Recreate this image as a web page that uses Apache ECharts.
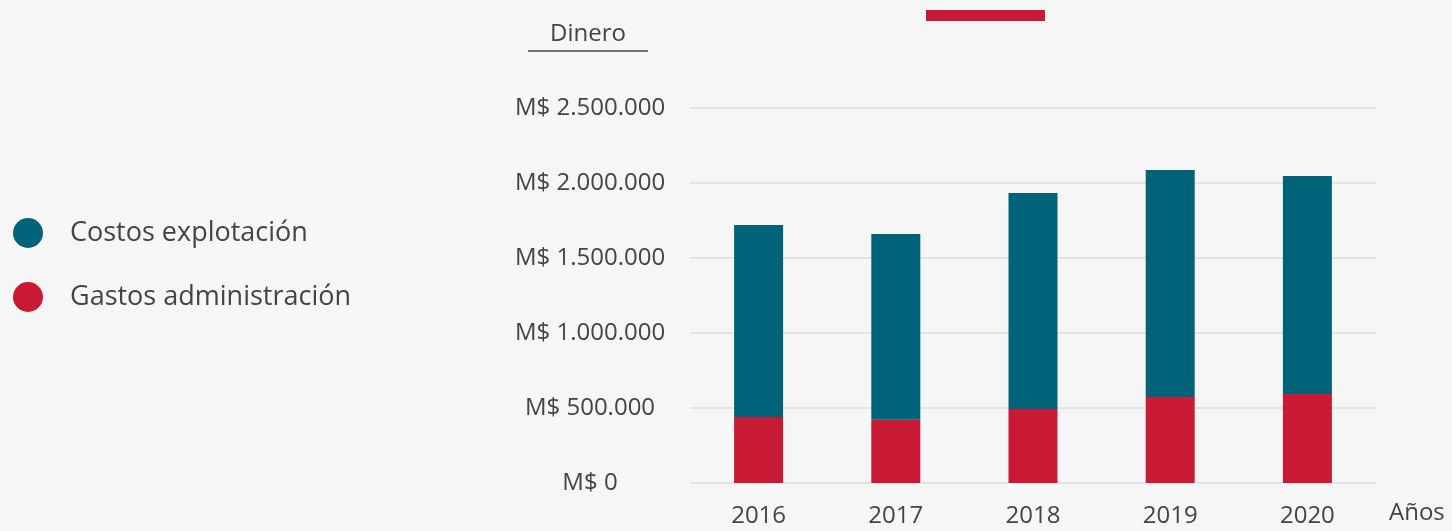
<!DOCTYPE html>
<html><head><meta charset="utf-8">
<script src="https://cdn.jsdelivr.net/npm/echarts@6/dist/echarts.min.js"></script>
<style>html,body{margin:0;padding:0;background:#f6f6f6}#c{width:1452px;height:531px}</style>
</head><body><div id="c"></div>
<script>
const categories = ['2016','2017','2018','2019','2020'];
const gastosAdministracion = [440000, 422000, 493000, 573000, 593000];
const costosExplotacion = [1280000, 1238000, 1440000, 1514000, 1454000];
const yTicks = [0, 500000, 1000000, 1500000, 2000000, 2500000];
const seriesNames = ['Costos explotación', 'Gastos administración'];

function fmt(v){ return 'M$ ' + String(v).replace(/\B(?=(\d{3})+(?!\d))/g, '.'); }

const chart = echarts.init(document.getElementById('c'), null, {renderer:'canvas'});
const txt = '#444444';
chart.setOption({
  backgroundColor:'#f6f6f6',
  animation:false,
  textStyle:{fontFamily:'Open Sans'},
  legend:{
    orient:'vertical', left:8, top:213, itemWidth:30, itemHeight:30, itemGap:34,
    icon:'circle',
    data:[seriesNames[0], seriesNames[1]],
    textStyle:{fontFamily:'Open Sans', fontSize:27, color:txt, padding:[0,0,0,22], lineHeight:30}
  },
  grid:{left:690, right:76, top:108, bottom:48},
  xAxis:{
    type:'category', data:categories,
    axisLine:{show:false}, axisTick:{show:false},
    axisLabel:{color:txt, fontSize:24, margin:21, fontFamily:'Open Sans'}
  },
  yAxis:{
    type:'value', min:yTicks[0], max:yTicks[yTicks.length-1], interval:yTicks[1]-yTicks[0],
    axisLine:{show:false}, axisTick:{show:false},
    axisLabel:{color:txt, fontSize:24, align:'center', margin:100, formatter:fmt, fontFamily:'Open Sans'},
    splitLine:{lineStyle:{color:'#e3e3e3', width:2}}
  },
  series:[
    {name:seriesNames[1], type:'bar', stack:'t', data:gastosAdministracion, barWidth:49, itemStyle:{color:'#c91a35'}},
    {name:seriesNames[0], type:'bar', stack:'t', data:costosExplotacion, barWidth:49, itemStyle:{color:'#006278'}}
  ],
  graphic:[
    {type:'text', left:550, top:22, style:{text:'Dinero', fill:txt, font:'24px "Open Sans"'}},
    {type:'line', shape:{x1:528, y1:51, x2:648, y2:51}, style:{stroke:'#444', lineWidth:1.5}},
    {type:'rect', shape:{x:926, y:10, width:119, height:11}, style:{fill:'#c91a35'}},
    {type:'text', left:1389, top:501, style:{text:'Años', fill:txt, font:'24px "Open Sans"'}}
  ]
});
</script></body></html>
